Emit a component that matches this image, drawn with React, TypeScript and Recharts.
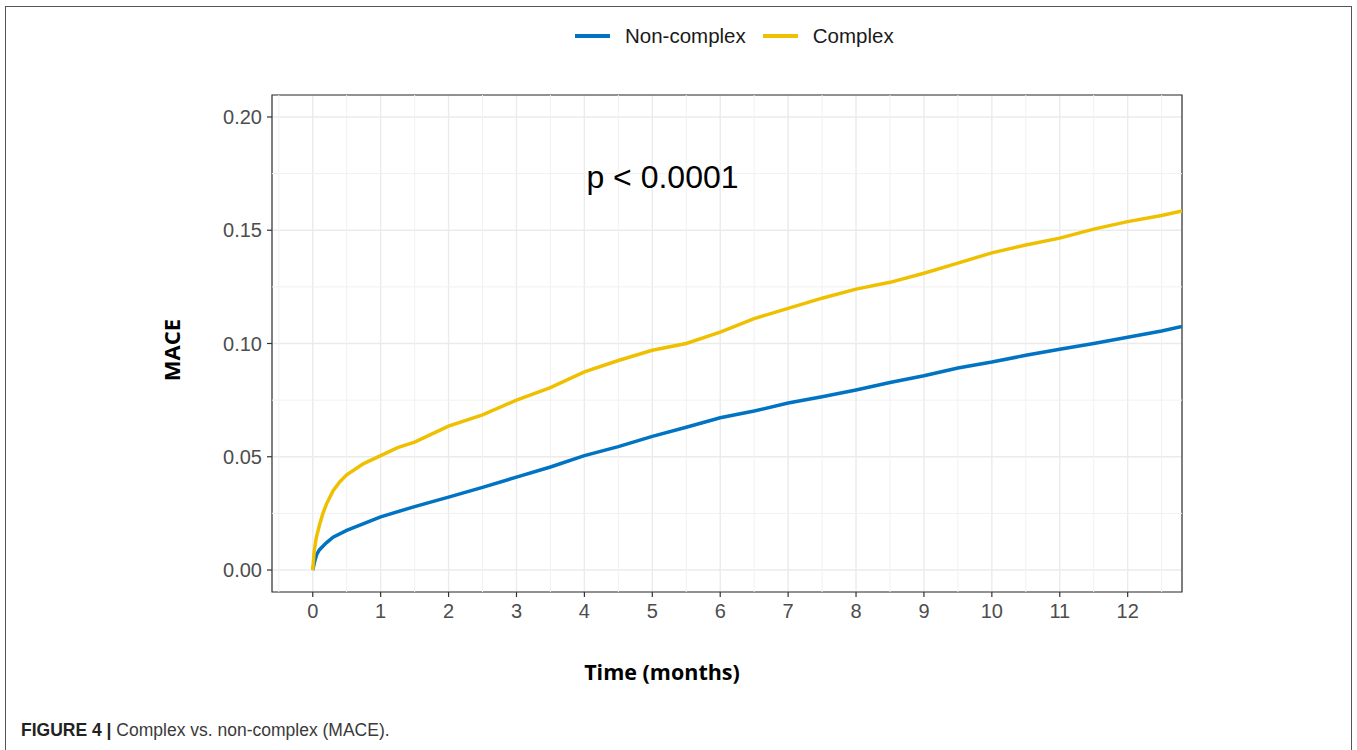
import React from 'react';
import {
  LineChart,
  Line,
  XAxis,
  YAxis,
  CartesianGrid,
  Legend,
  ReferenceLine,
  ReferenceArea,
  ReferenceDot,
} from 'recharts';

// cumulative incidence (months -> MACE)
const nonComplexTime = [0, 0.03, 0.06, 0.1, 0.2, 0.3, 0.5, 0.75, 1, 1.5, 2, 2.5, 3, 3.5, 4, 4.5, 5, 5.5, 6, 6.5, 7, 7.5, 8, 8.5, 9, 9.5, 10, 10.5, 11, 11.5, 12, 12.5, 12.8];
const nonComplexValue = [0, 0.004, 0.007, 0.009, 0.012, 0.0145, 0.0175, 0.0205, 0.0235, 0.028, 0.0322, 0.0365, 0.041, 0.0455, 0.0505, 0.0545, 0.059, 0.063, 0.0672, 0.0702, 0.0737, 0.0765, 0.0795, 0.0828, 0.0858, 0.0892, 0.0918, 0.0948, 0.0975, 0.1, 0.1028, 0.1055, 0.1075];

const complexTime = [0, 0.02, 0.05, 0.1, 0.15, 0.2, 0.3, 0.4, 0.5, 0.75, 1, 1.25, 1.5, 2, 2.5, 3, 3.5, 4, 4.5, 5, 5.5, 6, 6.5, 7, 7.5, 8, 8.5, 9, 9.5, 10, 10.5, 11, 11.5, 12, 12.5, 12.8];
const complexValue = [0, 0.008, 0.014, 0.02, 0.025, 0.029, 0.035, 0.039, 0.042, 0.047, 0.0505, 0.054, 0.0565, 0.0635, 0.0685, 0.075, 0.0805, 0.0875, 0.0925, 0.097, 0.1, 0.105, 0.111, 0.1155, 0.12, 0.124, 0.127, 0.131, 0.1355, 0.14, 0.1435, 0.1465, 0.1505, 0.1538, 0.1565, 0.1585];

const seriesOrder = ['Non-complex', 'Complex'];
const xTicks = [0, 1, 2, 3, 4, 5, 6, 7, 8, 9, 10, 11, 12];
const yTicks = [0, 0.05, 0.1, 0.15, 0.2];
const xMinor = [-0.5, 0.5, 1.5, 2.5, 3.5, 4.5, 5.5, 6.5, 7.5, 8.5, 9.5, 10.5, 11.5, 12.5];
const yMinor = [0.025, 0.075, 0.125, 0.175];

const X_DOMAIN: [number, number] = [-0.6, 12.8];
const Y_DOMAIN: [number, number] = [-0.0097, 0.2097];

const BLUE = '#0073C2';
const YELLOW = '#EFC000';

const nonComplexData = nonComplexTime.map((t, i) => ({ t, v: nonComplexValue[i] }));
const complexData = complexTime.map((t, i) => ({ t, v: complexValue[i] }));

const LegendContent = (props: any) => {
  const items = [...(props.payload || [])].sort(
    (a: any, b: any) => seriesOrder.indexOf(a.value) - seriesOrder.indexOf(b.value)
  );
  return (
    <div style={{ display: 'flex', alignItems: 'center', fontFamily: '"Liberation Sans", Arial, sans-serif', fontSize: 20.5, color: '#1a1a1a' }}>
      {items.map((it: any) => (
        <div key={it.value} style={{ display: 'flex', alignItems: 'center', marginRight: 17 }}>
          <span style={{ display: 'inline-block', width: 35, height: 4, background: it.color, marginRight: 15 }} />
          <span>{it.value}</span>
        </div>
      ))}
    </div>
  );
};

export default function App() {
  return (
    <div style={{ position: 'absolute', left: 0, top: 0, width: 1357, height: 750, background: '#fff', overflow: 'hidden' }}>
      <div style={{ position: 'absolute', left: 5, top: 6, width: 1345, height: 800, borderTop: '1px solid #555', borderLeft: '1px solid #555', borderRight: '1px solid #555' }} />
      <LineChart width={1357} height={750} margin={{ top: 95, right: 175, left: 212, bottom: 128 }}>
        <CartesianGrid stroke="#ebebeb" strokeWidth={1.4} />
        {xMinor.map((x) => (
          <ReferenceLine key={'vx' + x} x={x} stroke="#f1f1f1" strokeWidth={1} ifOverflow="hidden" />
        ))}
        {yMinor.map((y) => (
          <ReferenceLine key={'hy' + y} y={y} stroke="#f1f1f1" strokeWidth={1} ifOverflow="hidden" />
        ))}
        <XAxis
          dataKey="t"
          type="number"
          domain={X_DOMAIN}
          ticks={xTicks}
          allowDataOverflow
          axisLine={false}
          tickSize={5}
          tickMargin={7}
          tickLine={{ stroke: '#333', strokeWidth: 1.2 }}
          tick={{ fill: '#4d4d4d', fontSize: 20, fontFamily: '"Liberation Sans", Arial, sans-serif' }}
          height={30}
          label={{
            content: () => (
              <text x={662} y={671} textAnchor="middle" dominantBaseline="central" fontFamily='"Open Sans", sans-serif' fontWeight={700} fontSize={21.5} fill="#000">
                Time (months)
              </text>
            ),
          }}
        />
        <YAxis
          type="number"
          domain={Y_DOMAIN}
          ticks={yTicks}
          allowDataOverflow
          axisLine={false}
          tickSize={5}
          tickMargin={5}
          tickLine={{ stroke: '#333', strokeWidth: 1.2 }}
          tickFormatter={(v: number) => v.toFixed(2)}
          tick={{ fill: '#4d4d4d', fontSize: 20, fontFamily: '"Liberation Sans", Arial, sans-serif' }}
          width={60}
          label={{
            content: () => (
              <text x={171} y={350} transform="rotate(-90 171 350)" textAnchor="middle" dominantBaseline="central" fontFamily='"Open Sans", sans-serif' fontWeight={700} fontSize={22} fill="#000">
                MACE
              </text>
            ),
          }}
        />
        <Legend
          layout="horizontal"
          verticalAlign="middle"
          align="center"
          content={<LegendContent />}
          wrapperStyle={{ top: 24, left: 575, width: 'auto' }}
        />
        <Line data={nonComplexData} dataKey="v" name="Non-complex" type="linear" stroke={BLUE} strokeWidth={3.5} dot={false} isAnimationActive={false} />
        <Line data={complexData} dataKey="v" name="Complex" type="linear" stroke={YELLOW} strokeWidth={3.5} dot={false} isAnimationActive={false} />
        <ReferenceArea x1={X_DOMAIN[0]} x2={X_DOMAIN[1]} y1={Y_DOMAIN[0]} y2={Y_DOMAIN[1]} fill="none" stroke="#333" strokeWidth={1.2} ifOverflow="visible" />
        <ReferenceDot
          x={5.15}
          y={0.1735}
          r={0}
          fill="none"
          stroke="none"
          label={{ value: 'p < 0.0001', position: 'center', fontSize: 32, fill: '#000', fontFamily: '"Liberation Sans", Arial, sans-serif' }}
        />
      </LineChart>
      <div style={{ position: 'absolute', left: 21, top: 720, fontFamily: '"Liberation Sans", Arial, sans-serif', fontSize: 17.5, color: '#3a3a3a', whiteSpace: 'nowrap' }}>
        <b style={{ color: '#222' }}>FIGURE 4 |</b> Complex vs. non-complex (MACE).
      </div>
    </div>
  );
}
